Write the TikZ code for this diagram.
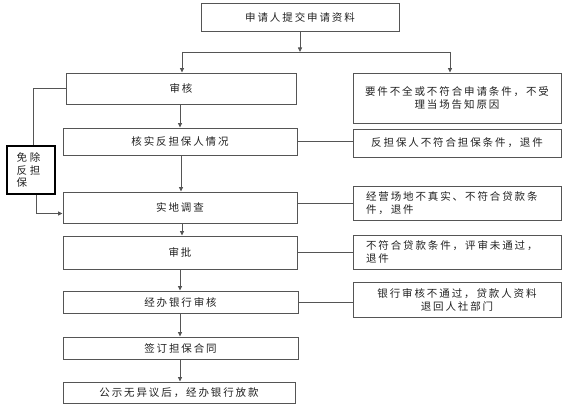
\documentclass[tikz,border=0pt]{standalone}
\usepackage{fontspec}
\newfontfamily\cjk{Noto Sans CJK SC}[LetterSpace=18]
\usetikzlibrary{arrows.meta,calc}
\definecolor{linegray}{HTML}{555555}
\definecolor{textgray}{HTML}{222222}
\tikzset{
  box/.style={draw=linegray, line width=0.9pt, fill=white, inner sep=2pt,
    font=\cjk\fontsize{10.5}{13}\selectfont, text=textgray, align=center},
  conn/.style={draw=linegray, line width=0.8pt},
  arr/.style={conn, -{Triangle[length=4.5pt,width=4pt]}},
}
\begin{document}
\begin{tikzpicture}[x=1pt,y=-1pt]
\useasboundingbox (0,0) rectangle (577,411);
% main column
\node[box, minimum width=198pt, minimum height=28pt] (top) at (300,17) {申请人提交申请资料};
\node[box, minimum width=230pt, minimum height=31pt] (shen) at (181,88.5) {审核};
\node[box, minimum width=234pt, minimum height=27pt] (hs) at (180,141.5) {核实反担保人情况};
\node[box, minimum width=234pt, minimum height=31pt] (sd) at (180,207.5) {实地调查};
\node[box, minimum width=234pt, minimum height=33pt] (sp) at (180,252.5) {审批};
\node[box, minimum width=235pt, minimum height=22pt] (jb) at (180.5,302) {经办银行审核};
\node[box, minimum width=235pt, minimum height=22pt] (qd) at (180.5,348) {签订担保合同};
\node[box, minimum width=232pt, minimum height=21pt] (gs) at (179,392.5) {公示无异议后，经办银行放款};
% right column
\node[box, minimum width=208pt, minimum height=50pt] (r1) at (457,98) {要件不全或不符合申请条件，不受\\理当场告知原因};
\node[box, minimum width=208pt, minimum height=28pt] (r2) at (457,143) {反担保人不符合担保条件，退件};
\node[box, minimum width=208pt, minimum height=34pt, text width=182pt, align=left] (r3) at (457,203) {经营场地不真实、不符合贷款条\\件，退件};
\node[box, minimum width=208pt, minimum height=34pt, text width=182pt, align=left] (r4) at (457,252) {不符合贷款条件，评审未通过，\\退件};
\node[box, minimum width=208pt, minimum height=35pt] (r5) at (457,299.5) {银行审核不通过，贷款人资料\\退回人社部门};
% exemption box
\node[box, draw=black, line width=1.1pt, minimum width=48pt, minimum height=48pt,
  text width=29pt, align=left, font=\cjk\fontsize{10.5}{12.5}\selectfont] (mc) at (31,170) {免\hspace{3pt}除\\反\hspace{3pt}担\\保};
% branch
\coordinate (bl) at (182,52);
\coordinate (br) at (450,52);
\draw[arr] (top.south) -- (top.south |- bl);
\draw[conn] (bl) -- (br);
\draw[arr] (bl) -- (bl |- shen.north);
\draw[arr] (br) -- (br |- r1.north);
% main arrows
\draw[arr] (180,0 |- shen.south) -- (180,0 |- hs.north);
\draw[arr] (181,0 |- hs.south) -- (181,0 |- sd.north);
\draw[arr] (182,0 |- sd.south) -- (182,0 |- sp.north);
\draw[arr] (180,0 |- sp.south) -- (180,0 |- jb.north);
\draw[arr] (180,0 |- jb.south) -- (180,0 |- qd.north);
\draw[arr] (180,0 |- qd.south) -- (180,0 |- gs.north);
% side connectors
\draw[conn] (hs.east) -- (hs.east -| r2.west);
\draw[conn] (sd.east |- r3.west) -- (r3.west);
\draw[conn] (sp.east) -- (sp.east -| r4.west);
\draw[conn] (jb.east) -- (jb.east -| r5.west);
% exemption path
\coordinate (mcin) at (33,0 |- mc.north);
\coordinate (mcout) at (36,0 |- mc.south);
\coordinate (sdin) at ($(sd.west)+(0,6)$);
\draw[conn] (shen.west) -| (mcin);
\draw[arr] (mcout) |- (sdin);
\end{tikzpicture}
\end{document}
